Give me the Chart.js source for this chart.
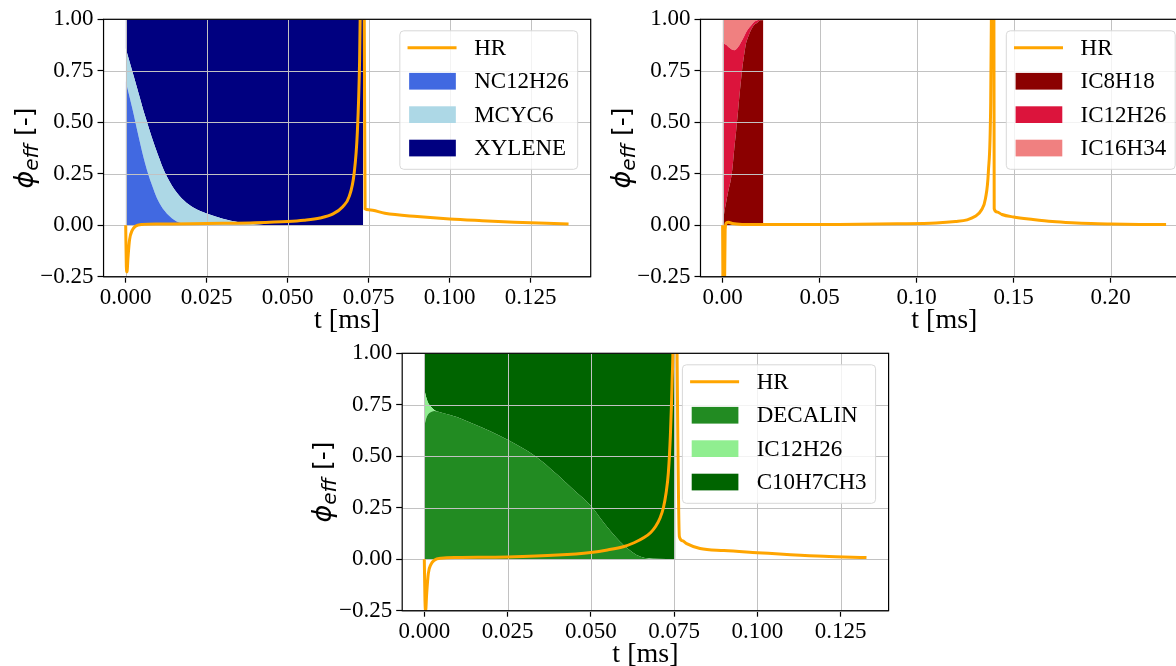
<!DOCTYPE html>
<html>
<head>
<meta charset="utf-8">
<title>phi_eff vs t</title>
<script src="https://cdn.jsdelivr.net/npm/chart.js@4.4.0/dist/chart.umd.min.js"></script>
<style>
  html, body { margin: 0; padding: 0; background: #fff; overflow: hidden; width: 1176px; height: 666px; }
  canvas { position: absolute; }
  #c1 { left: 0; top: 0; }
  #c2 { left: 600px; top: 0; }
  #c3 { left: 300px; top: 333px; }
</style>
</head>
<body>
<canvas id="c1" width="600" height="340"></canvas>
<canvas id="c2" width="600" height="340"></canvas>
<canvas id="c3" width="600" height="345"></canvas>
<script>
// ========== shared axis ticks ==========
const Y_TICKS = [-0.25, 0, 0.25, 0.5, 0.75, 1.0];
const X_TICKS_1 = [0, 0.025, 0.05, 0.075, 0.1, 0.125];
const X_TICKS_2 = [0, 0.05, 0.1, 0.15, 0.2];
const X_TICKS_3 = [0, 0.025, 0.05, 0.075, 0.1, 0.125];

// ========== chart 1 : NC12H26 / MCYC6 / XYLENE ==========
const LABELS_1 = ['HR', 'NC12H26', 'MCYC6', 'XYLENE'];
const T1 = [0, 0.002, 0.004, 0.006, 0.008, 0.010, 0.012, 0.015, 0.018, 0.021, 0.025, 0.030, 0.035, 0.040, 0.045, 0.050, 0.060, 0.070, 0.0733];
const NC12H26 = [0.70, 0.57, 0.43, 0.30, 0.20, 0.12, 0.07, 0.025, 0.006, 0, 0, 0, 0, 0, 0, 0, 0, 0, 0];
const MCYC6   = [0.16, 0.18, 0.21, 0.23, 0.23, 0.22, 0.19, 0.15, 0.114, 0.085, 0.057, 0.032, 0.014, 0.004, 0.001, 0, 0, 0, 0];
const XYLENE  = [0.14, 0.25, 0.36, 0.47, 0.57, 0.66, 0.74, 0.825, 0.88, 0.915, 0.943, 0.968, 0.986, 0.996, 0.999, 1, 1, 1, 1];
const T1_HR = [0, 0.0002, 0.0004, 0.0007, 0.0012, 0.002, 0.003, 0.005, 0.010, 0.020, 0.030, 0.040, 0.050, 0.055, 0.060, 0.064, 0.067, 0.069, 0.0705, 0.0715, 0.0722, 0.0728, 0.0732, 0.0736, 0.0739, 0.075, 0.080, 0.090, 0.100, 0.110, 0.120, 0.130, 0.1367];
const HR_1 = [0, -0.20, -0.227, -0.16, -0.07, -0.025, -0.005, 0.004, 0.006, 0.007, 0.009, 0.012, 0.018, 0.024, 0.035, 0.055, 0.09, 0.14, 0.25, 0.45, 0.8, 1.5, 2.5, 1.2, 0.08, 0.075, 0.058, 0.042, 0.030, 0.022, 0.015, 0.009, 0.006];

// ========== chart 2 : IC8H18 / IC12H26 / IC16H34 ==========
const LABELS_2 = ['HR', 'IC8H18', 'IC12H26', 'IC16H34'];
const T2 = [0, 0.001, 0.002, 0.003, 0.004, 0.005, 0.006, 0.007, 0.008, 0.009, 0.010, 0.011, 0.012, 0.013, 0.014, 0.016, 0.018, 0.0195, 0.021];
const IC8H18  = [0.0, 0.07, 0.12, 0.17, 0.21, 0.27, 0.37, 0.46, 0.56, 0.66, 0.75, 0.82, 0.88, 0.91, 0.935, 0.97, 0.985, 0.995, 0.995];
const IC12H26 = [0.89, 0.81, 0.755, 0.695, 0.648, 0.582, 0.48, 0.395, 0.305, 0.22, 0.147, 0.095, 0.055, 0.04, 0.027, 0.015, 0.01, 0.004, 0.005];
const IC16H34 = [0.11, 0.12, 0.125, 0.135, 0.142, 0.148, 0.15, 0.145, 0.135, 0.12, 0.103, 0.085, 0.065, 0.05, 0.038, 0.015, 0.005, 0.001, 0.0];
const T2_HR = [0, 0.0003, 0.0009, 0.0013, 0.002, 0.003, 0.005, 0.010, 0.030, 0.060, 0.090, 0.110, 0.120, 0.126, 0.130, 0.1335, 0.1355, 0.137, 0.1382, 0.1390, 0.1396, 0.1400, 0.1415, 0.144, 0.150, 0.160, 0.170, 0.180, 0.190, 0.200, 0.215, 0.2286];
const HR_2 = [0, -0.45, -0.40, -0.02, 0.012, 0.014, 0.008, 0.004, 0.003, 0.004, 0.007, 0.011, 0.018, 0.026, 0.042, 0.075, 0.13, 0.26, 0.6, 1.6, 2.5, 0.08, 0.064, 0.052, 0.04, 0.028, 0.018, 0.012, 0.008, 0.006, 0.004, 0.003];

// ========== chart 3 : DECALIN / IC12H26 / C10H7CH3 ==========
const LABELS_3 = ['HR', 'DECALIN', 'IC12H26', 'C10H7CH3'];
const T3 = [0, 0.0005, 0.001, 0.0015, 0.002, 0.003, 0.005, 0.010, 0.015, 0.020, 0.025, 0.030, 0.035, 0.040, 0.045, 0.050, 0.055, 0.060, 0.065, 0.070, 0.0754];
const DECALIN    = [0.646, 0.68, 0.70, 0.71, 0.715, 0.72, 0.713, 0.69, 0.655, 0.62, 0.58, 0.535, 0.48, 0.41, 0.335, 0.26, 0.155, 0.067, 0.012, 0.002, 0];
const IC12H26_3  = [0.178, 0.11, 0.065, 0.04, 0.025, 0.005, 0, 0, 0, 0, 0, 0, 0, 0, 0, 0, 0, 0, 0, 0, 0];
const C10H7CH3   = [0.176, 0.21, 0.235, 0.25, 0.26, 0.275, 0.287, 0.31, 0.345, 0.38, 0.42, 0.465, 0.52, 0.59, 0.665, 0.74, 0.845, 0.933, 0.988, 0.998, 1];
const T3_HR = [0, 0.0002, 0.0004, 0.0007, 0.0012, 0.002, 0.003, 0.005, 0.010, 0.025, 0.040, 0.050, 0.055, 0.060, 0.063, 0.066, 0.068, 0.0695, 0.0708, 0.0718, 0.0726, 0.0733, 0.0739, 0.0744, 0.0748, 0.0752, 0.0758, 0.0766, 0.0775, 0.0788, 0.0828, 0.090, 0.100, 0.110, 0.120, 0.1328];
const HR_3 = [0, -0.20, -0.25, -0.17, -0.07, -0.025, -0.005, 0.005, 0.008, 0.011, 0.02, 0.033, 0.045, 0.062, 0.08, 0.105, 0.13, 0.16, 0.2, 0.25, 0.32, 0.42, 0.6, 0.85, 1.2, 2.5, 1.2, 0.11, 0.09, 0.076, 0.052, 0.042, 0.032, 0.022, 0.014, 0.008];

const SERIF = '"Liberation Serif", "Times New Roman", serif';
const HR_COLOR = '#FFA500';

// points for the library: {x, y}
function toPoints(t, v) {
    return t.map((x, i) => ({ x: x, y: v[i] }));
}

// running sum of the species, so each fill sits on the one below (stackplot)
function stacked(t, series) {
    const sum = t.map(() => 0);
    return series.map(s => {
        s.forEach((v, i) => { sum[i] += v; });
        return toPoints(t, sum.slice());
    });
}

function roundBox(ctx, x, y, w, h, r) {
    ctx.beginPath();
    ctx.moveTo(x + r, y);
    ctx.lineTo(x + w - r, y);
    ctx.arcTo(x + w, y, x + w, y + r, r);
    ctx.lineTo(x + w, y + h - r);
    ctx.arcTo(x + w, y + h, x + w - r, y + h, r);
    ctx.lineTo(x + r, y + h);
    ctx.arcTo(x, y + h, x, y + h - r, r);
    ctx.lineTo(x, y + r);
    ctx.arcTo(x, y, x + r, y, r);
    ctx.closePath();
}

// grid over the fills, frame, legend box and the phi_eff label
const mplLook = {
    id: 'mplLook',
    beforeDatasetDraw(chart, args) {
        if (args.index !== 0) return;   // HR is dataset 0 and is drawn last
        const { ctx, chartArea: a, scales: { x, y } } = chart;
        ctx.save();
        ctx.strokeStyle = '#c2c2c2';
        ctx.lineWidth = 1;
        ctx.beginPath();
        x.ticks.forEach(t => {
            const px = Math.round(x.getPixelForValue(t.value)) + 0.5;
            ctx.moveTo(px, a.top); ctx.lineTo(px, a.bottom);
        });
        y.ticks.forEach(t => {
            const py = Math.round(y.getPixelForValue(t.value)) + 0.5;
            ctx.moveTo(a.left, py); ctx.lineTo(a.right, py);
        });
        ctx.stroke();
        ctx.restore();
    },
    afterDatasetsDraw(chart) {
        const { ctx, chartArea: a } = chart;
        ctx.save();
        ctx.strokeStyle = '#000';
        ctx.lineWidth = 1.2;
        ctx.strokeRect(a.left, a.top, a.right - a.left, a.bottom - a.top);
        ctx.restore();
    },
    afterDraw(chart, args, opts) {
        const { ctx, chartArea: a } = chart;
        // ----- legend -----
        ctx.save();
        ctx.font = '23px ' + SERIF;
        const items = opts.items;
        const textW = Math.max(...items.map(it => ctx.measureText(it.label).width));
        const w = 74.3 + textW + 9, h = 138.5;
        const x0 = a.right - 13 - w, y0 = a.top + 11.5;
        roundBox(ctx, x0, y0, w, h, 4);
        ctx.fillStyle = 'rgba(255,255,255,0.8)';
        ctx.fill();
        ctx.strokeStyle = '#d8d8d8';
        ctx.lineWidth = 1;
        ctx.stroke();
        items.forEach((it, i) => {
            const cy = y0 + 17 + i * 33.4;
            if (it.line) {
                ctx.strokeStyle = it.color;
                ctx.lineWidth = 3;
                ctx.beginPath();
                ctx.moveTo(x0 + 7.7, cy); ctx.lineTo(x0 + 56.7, cy);
                ctx.stroke();
            } else {
                ctx.fillStyle = it.color;
                ctx.fillRect(x0 + 9.3, cy - 8.3, 46.7, 16.7);
            }
            ctx.fillStyle = '#000';
            ctx.textBaseline = 'middle';
            ctx.textAlign = 'left';
            ctx.fillText(it.label, x0 + 74.3, cy + 1);
        });
        ctx.restore();

        // ----- y label: phi_eff [-] -----
        ctx.save();
        ctx.translate(a.left - 71, (a.top + a.bottom) / 2);
        ctx.rotate(-Math.PI / 2);
        ctx.fillStyle = '#000';
        ctx.textBaseline = 'alphabetic';
        ctx.textAlign = 'left';
        const f1 = 'italic 27px "DejaVu Sans"', f2 = 'italic 20px "DejaVu Sans"', f3 = '25px "DejaVu Sans"';
        ctx.font = f1; const w1 = ctx.measureText('\u03D5').width;
        ctx.font = f2; const w2 = ctx.measureText('eff').width;
        ctx.font = f3; const w3 = ctx.measureText(' [-]').width;
        let tx = -(w1 + w2 + w3) / 2;
        ctx.font = f1; ctx.fillText('\u03D5', tx, 0); tx += w1;
        ctx.font = f2; ctx.fillText('eff', tx, 5); tx += w2;
        ctx.font = f3; ctx.fillText(' [-]', tx, 0);
        ctx.restore();
    }
};

function makeChart(id, o) {
    const tops = stacked(o.t, o.species);
    const areaSets = tops.map((pts, i) => ({
        label: o.labels[i + 1],
        data: pts,
        backgroundColor: o.colors[i],
        borderColor: 'rgba(0,0,0,0)',
        borderWidth: 0,
        pointRadius: 0,
        fill: i === 0 ? 'origin' : '-1',
        cubicInterpolationMode: 'monotone'
    }));
    const items = [{ label: o.labels[0], color: HR_COLOR, line: true }]
        .concat(o.colors.map((c, i) => ({ label: o.labels[i + 1], color: c })));

    return new Chart(document.getElementById(id), {
        type: 'line',
        data: {
            datasets: [{
                label: o.labels[0],
                data: toPoints(o.tHR, o.hr),
                borderColor: HR_COLOR,
                borderWidth: 3,
                pointRadius: 0,
                fill: false,
                clip: 0,
                cubicInterpolationMode: 'monotone'
            }].concat(areaSets)
        },
        options: {
            responsive: false,
            animation: false,
            layout: { padding: { top: o.area.top, right: o.W - o.area.right, left: 0, bottom: 0 } },
            plugins: {
                legend: { display: false },
                tooltip: { enabled: false },
                mplLook: { items: items }
            },
            scales: {
                x: {
                    type: 'linear',
                    min: o.xMin,
                    max: o.xMax,
                    afterBuildTicks: s => { s.ticks = o.xTicks.map(v => ({ value: v })); },
                    afterFit: s => { s.height = o.H - o.area.bottom; },
                    grid: { drawOnChartArea: false, tickLength: 6, tickColor: '#000', tickWidth: 1.2 },
                    border: { display: false },
                    ticks: {
                        color: '#000', padding: 1, maxRotation: 0, autoSkip: false,
                        font: { family: SERIF, size: 23 },
                        callback: v => v.toFixed(o.xDigits)
                    },
                    title: {
                        display: true, text: 't [ms]', color: '#000',
                        font: { family: SERIF, size: 28 },
                        padding: { top: 0, bottom: o.H - o.area.bottom - 43.5 - 16.8 }
                    }
                },
                y: {
                    type: 'linear',
                    min: -0.25,
                    max: 1.0,
                    afterBuildTicks: s => { s.ticks = Y_TICKS.map(v => ({ value: v })); },
                    afterFit: s => { s.width = o.area.left; },
                    grid: { drawOnChartArea: false, tickLength: 6, tickColor: '#000', tickWidth: 1.2 },
                    border: { display: false },
                    ticks: {
                        color: '#000', padding: 4,
                        font: { family: SERIF, size: 23 },
                        callback: v => (v < 0 ? '\u2212' + Math.abs(v).toFixed(2) : v.toFixed(2))
                    }
                }
            }
        },
        plugins: [mplLook]
    });
}

makeChart('c1', {
    W: 600, H: 340,
    area: { left: 103.55, right: 590.7, top: 19.3, bottom: 276.7 },
    xMin: -0.006835, xMax: 0.143535, xTicks: X_TICKS_1, xDigits: 3,
    t: T1, species: [NC12H26, MCYC6, XYLENE],
    colors: ['#4169E1', '#ADD8E6', '#000080'],
    labels: LABELS_1,
    tHR: T1_HR, hr: HR_1
});

makeChart('c2', {
    W: 600, H: 340,
    area: { left: 100.5, right: 588.2, top: 19.3, bottom: 276.7 },
    xMin: -0.0114, xMax: 0.24, xTicks: X_TICKS_2, xDigits: 2,
    t: T2, species: [IC8H18, IC12H26, IC16H34],
    colors: ['#8B0000', '#DC143C', '#F08080'],
    labels: LABELS_2,
    tHR: T2_HR, hr: HR_2
});

makeChart('c3', {
    W: 600, H: 345,
    area: { left: 102.2, right: 588.6, top: 20.3, bottom: 277.7 },
    xMin: -0.00664, xMax: 0.13944, xTicks: X_TICKS_3, xDigits: 3,
    t: T3, species: [DECALIN, IC12H26_3, C10H7CH3],
    colors: ['#228B22', '#90EE90', '#006400'],
    labels: LABELS_3,
    tHR: T3_HR, hr: HR_3
});
</script>
</body>
</html>
